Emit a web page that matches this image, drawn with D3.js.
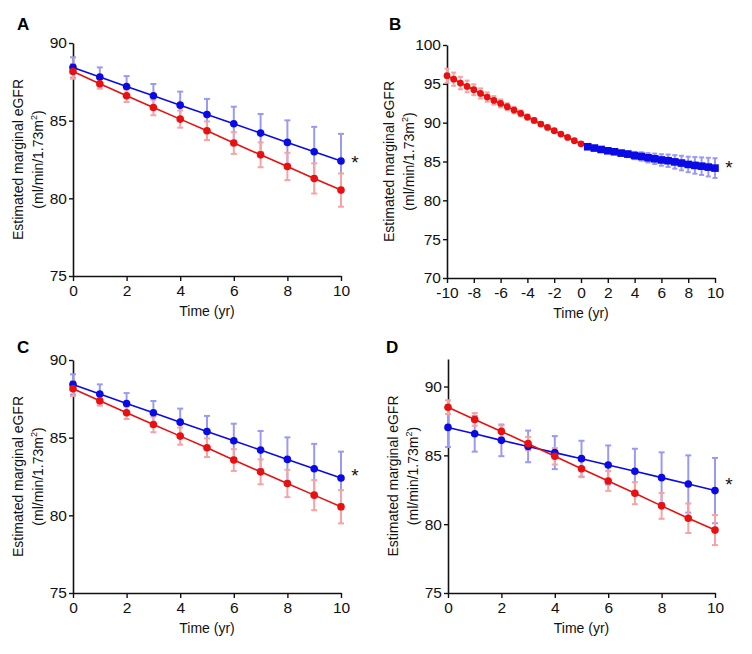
<!DOCTYPE html>
<html>
<head>
<meta charset="utf-8">
<script src="https://cdn.jsdelivr.net/npm/d3@7"></script>
<style>
  html, body { margin: 0; padding: 0; background: #fff; }
  svg { display: block; font-family: "Liberation Sans", Arial, sans-serif; }
</style>
</head>
<body>
<svg id="chart" width="752" height="654"></svg>
<script>
// ---------- DATA ----------
const timeYears = [0, 1, 2, 3, 4, 5, 6, 7, 8, 9, 10];

// Panel A
const blueA    = [88.43, 87.81, 87.2, 86.6, 86.0, 85.4, 84.8, 84.2, 83.6, 83.0, 82.4];
const blueErrA = [0.65, 0.62, 0.67, 0.76, 0.87, 1.0, 1.1, 1.23, 1.42, 1.6, 1.75];
const redA     = [88.17, 87.38, 86.6, 85.85, 85.1, 84.35, 83.56, 82.8, 82.05, 81.28, 80.53];
const redErrA  = [0.47, 0.32, 0.4, 0.5, 0.55, 0.6, 0.7, 0.8, 0.88, 0.97, 1.07];

// Panel B
const timeBRed  = [-10, -9.5, -9, -8.5, -8, -7.5, -7, -6.5, -6, -5.5, -5, -4.5, -4, -3.5, -3, -2.5, -2, -1.5, -1, -0.5, 0];
const redB      = [96.05, 95.6, 95.1, 94.67, 94.24, 93.76, 93.3, 92.87, 92.48, 92.05, 91.62, 91.2, 90.72, 90.29, 89.82, 89.39, 88.96, 88.53, 88.1, 87.67, 87.28];
const redErrB   = [0.9, 0.85, 0.8, 0.75, 0.7, 0.65, 0.6, 0.55, 0.5, 0.45, 0.42, 0.38, 0.34, 0.3, 0.25, 0.2, 0.17, 0.13, 0.1, 0.07, 0.05];
const timeBBlue = [0.5, 1, 1.5, 2, 2.5, 3, 3.5, 4, 4.5, 5, 5.5, 6, 6.5, 7, 7.5, 8, 8.5, 9, 9.5, 10];
const blueB     = [86.9, 86.73, 86.55, 86.38, 86.25, 86.08, 85.95, 85.77, 85.65, 85.48, 85.35, 85.2, 85.1, 84.95, 84.8, 84.62, 84.5, 84.4, 84.28, 84.15];
const blueErrB  = [0.05, 0.1, 0.15, 0.2, 0.27, 0.33, 0.4, 0.47, 0.54, 0.6, 0.67, 0.74, 0.8, 0.87, 0.94, 1.0, 1.07, 1.13, 1.2, 1.27];

// Panel C
const blueC    = [88.43, 87.81, 87.2, 86.6, 86.0, 85.4, 84.8, 84.2, 83.6, 83.0, 82.4];
const blueErrC = [0.65, 0.62, 0.67, 0.76, 0.87, 1.0, 1.1, 1.23, 1.42, 1.6, 1.7];
const redC     = [88.15, 87.38, 86.6, 85.85, 85.1, 84.35, 83.56, 82.8, 82.05, 81.3, 80.55];
const redErrC  = [0.47, 0.32, 0.4, 0.5, 0.55, 0.6, 0.7, 0.8, 0.88, 0.97, 1.07];

// Panel D
const blueD    = [87.03, 86.57, 86.09, 85.65, 85.2, 84.76, 84.3, 83.84, 83.38, 82.92, 82.44];
const blueErrD = [1.43, 1.3, 1.15, 1.15, 1.2, 1.3, 1.42, 1.64, 1.84, 2.08, 2.37];
const redD     = [88.5, 87.61, 86.74, 85.85, 84.93, 84.03, 83.14, 82.25, 81.33, 80.43, 79.57];
const redErrD  = [0.5, 0.46, 0.43, 0.48, 0.6, 0.62, 0.72, 0.8, 0.94, 1.07, 1.09];

const yTicks1090 = [75, 80, 85, 90];
const yTicksB = [70, 75, 80, 85, 90, 95, 100];
const xTicks010 = [0, 2, 4, 6, 8, 10];
const xTicksB = [-10, -8, -6, -4, -2, 0, 2, 4, 6, 8, 10];

const panelLetters = ["A", "B", "C", "D"];
const yLabel1 = "Estimated marginal eGFR";
const xLabel = "Time (yr)";

// ---------- STYLE ----------
const BLUE = "#0a0ae6", RED = "#e81010";
const BLUE_ERR = "#9a9af2", RED_ERR = "#f4a4a4";

const svg = d3.select("#chart");
const fmt = d => String(d); // plain hyphen-minus like the original

function drawPanel(cfg) {
  const g = svg.append("g");
  const x = d3.scaleLinear().domain(cfg.xDomain).range([cfg.left, cfg.right]);
  const y = d3.scaleLinear().domain(cfg.yDomain).range([cfg.bottom, cfg.top]);

  // axes
  const yAxis = d3.axisLeft(y).tickValues(cfg.yTicks).tickFormat(fmt).tickSize(4).tickPadding(2).tickSizeOuter(0);
  const xAxis = d3.axisBottom(x).tickValues(cfg.xTicks).tickFormat(fmt).tickSize(5).tickPadding(3).tickSizeOuter(0);
  const ya = g.append("g").attr("transform", `translate(${cfg.left},0)`).call(yAxis);
  const xa = g.append("g").attr("transform", `translate(0,${cfg.bottom})`).call(xAxis);
  [ya, xa].forEach(a => {
    a.selectAll("path.domain").attr("stroke", "#111").attr("stroke-width", 1.6);
    a.selectAll(".tick line").attr("stroke", "#111").attr("stroke-width", 1.4);
    a.selectAll(".tick text").attr("fill", "#111").attr("font-size", 15.5)
      .attr("font-family", "'Liberation Sans', Arial, sans-serif");
  });
  xa.selectAll(".tick text").attr("dy", "0.75em");

  // series
  cfg.series.forEach(s => {
    const pts = s.t.map((t, i) => ({ t, v: s.v[i], e: s.e[i] }));
    const eb = g.append("g").attr("stroke", s.errColor).attr("stroke-width", 2).attr("fill", "none");
    pts.forEach(p => {
      const px = x(p.t), y1 = y(p.v + p.e), y2 = y(p.v - p.e);
      eb.append("line").attr("x1", px).attr("x2", px).attr("y1", y1).attr("y2", y2);
      eb.append("line").attr("x1", px - s.cap).attr("x2", px + s.cap).attr("y1", y1).attr("y2", y1);
      eb.append("line").attr("x1", px - s.cap).attr("x2", px + s.cap).attr("y1", y2).attr("y2", y2);
    });
    s.pts = pts;
  });
  cfg.series.forEach(s => {
    const line = d3.line().x(d => x(d.t)).y(d => y(d.v));
    g.append("path").datum(s.pts).attr("d", line).attr("fill", "none")
      .attr("stroke", s.color).attr("stroke-width", 1.6);
  });
  cfg.series.forEach(s => {
    if (s.shape === "square") {
      g.append("g").selectAll("rect").data(s.pts).join("rect")
        .attr("x", d => x(d.t) - s.r).attr("y", d => y(d.v) - s.r)
        .attr("width", 2 * s.r).attr("height", 2 * s.r).attr("fill", s.color);
    } else {
      g.append("g").selectAll("circle").data(s.pts).join("circle")
        .attr("cx", d => x(d.t)).attr("cy", d => y(d.v)).attr("r", s.r).attr("fill", s.color);
    }
  });

  // asterisk
  const last = cfg.series[cfg.starSeries];
  g.append("text").attr("x", cfg.right + 14).attr("y", y(last.v[last.v.length - 1]) + cfg.starDy)
    .attr("text-anchor", "middle").attr("font-size", 19).attr("fill", "#111").text("*");

  // axis labels
  const midY = (cfg.top + cfg.bottom) / 2 + cfg.labelShift;
  g.append("text").attr("transform", `translate(${cfg.left - cfg.lab1},${midY}) rotate(-90)`)
    .attr("text-anchor", "middle").attr("font-size", 14).attr("fill", "#111").text(yLabel1);
  const t2 = g.append("text").attr("transform", `translate(${cfg.left - cfg.lab2},${midY}) rotate(-90)`)
    .attr("text-anchor", "middle").attr("font-size", 14).attr("fill", "#111");
  t2.append("tspan").text("(ml/min/1.73m");
  t2.append("tspan").attr("font-size", 9).attr("dy", -6).text("2");
  t2.append("tspan").attr("dy", 6).text(")");

  g.append("text").attr("x", (cfg.left + cfg.right) / 2).attr("y", cfg.bottom + 40)
    .attr("text-anchor", "middle").attr("font-size", 14).attr("fill", "#111").text(xLabel);

  // panel letter
  g.append("text").attr("x", cfg.letterX).attr("y", cfg.letterY)
    .attr("font-size", 17).attr("font-weight", "bold").attr("fill", "#000").text(cfg.letter);
}

const cap = 3;
drawPanel({
  letter: panelLetters[0], letterX: 17, letterY: 30,
  left: 73, right: 341, top: 43, bottom: 276,
  xDomain: [0, 10], yDomain: [75, 90], xTicks: xTicks010, yTicks: yTicks1090,
  lab1: 50, lab2: 30, labelShift: 0, starDy: 8, starSeries: 0,
  series: [
    { t: timeYears, v: blueA, e: blueErrA, color: BLUE, errColor: BLUE_ERR, shape: "circle", r: 3.8, cap },
    { t: timeYears, v: redA, e: redErrA, color: RED, errColor: RED_ERR, shape: "circle", r: 3.8, cap }
  ]
});
drawPanel({
  letter: panelLetters[1], letterX: 389, letterY: 30,
  left: 447, right: 715, top: 45, bottom: 278,
  xDomain: [-10, 10], yDomain: [70, 100], xTicks: xTicksB, yTicks: yTicksB,
  lab1: 53, lab2: 33, labelShift: 0, starDy: 6, starSeries: 1,
  series: [
    { t: timeBRed, v: redB, e: redErrB, color: RED, errColor: RED_ERR, shape: "circle", r: 3.4, cap: 2.5 },
    { t: timeBBlue, v: blueB, e: blueErrB, color: BLUE, errColor: BLUE_ERR, shape: "square", r: 3.8, cap: 2.5 }
  ]
});
drawPanel({
  letter: panelLetters[2], letterX: 17, letterY: 353,
  left: 73, right: 341, top: 360, bottom: 593,
  xDomain: [0, 10], yDomain: [75, 90], xTicks: xTicks010, yTicks: yTicks1090,
  lab1: 50, lab2: 30, labelShift: 0, starDy: 4, starSeries: 0,
  series: [
    { t: timeYears, v: blueC, e: blueErrC, color: BLUE, errColor: BLUE_ERR, shape: "circle", r: 3.8, cap },
    { t: timeYears, v: redC, e: redErrC, color: RED, errColor: RED_ERR, shape: "circle", r: 3.8, cap }
  ]
});
drawPanel({
  letter: panelLetters[3], letterX: 386, letterY: 353,
  left: 448, right: 715, top: 359, bottom: 593,
  xDomain: [0, 10], yDomain: [75, 92], xTicks: xTicks010, yTicks: yTicks1090,
  lab1: 50, lab2: 30, labelShift: 0, starDy: 0, starSeries: 0,
  series: [
    { t: timeYears, v: blueD, e: blueErrD, color: BLUE, errColor: BLUE_ERR, shape: "circle", r: 3.8, cap },
    { t: timeYears, v: redD, e: redErrD, color: RED, errColor: RED_ERR, shape: "circle", r: 3.8, cap }
  ]
});
</script>
</body>
</html>
